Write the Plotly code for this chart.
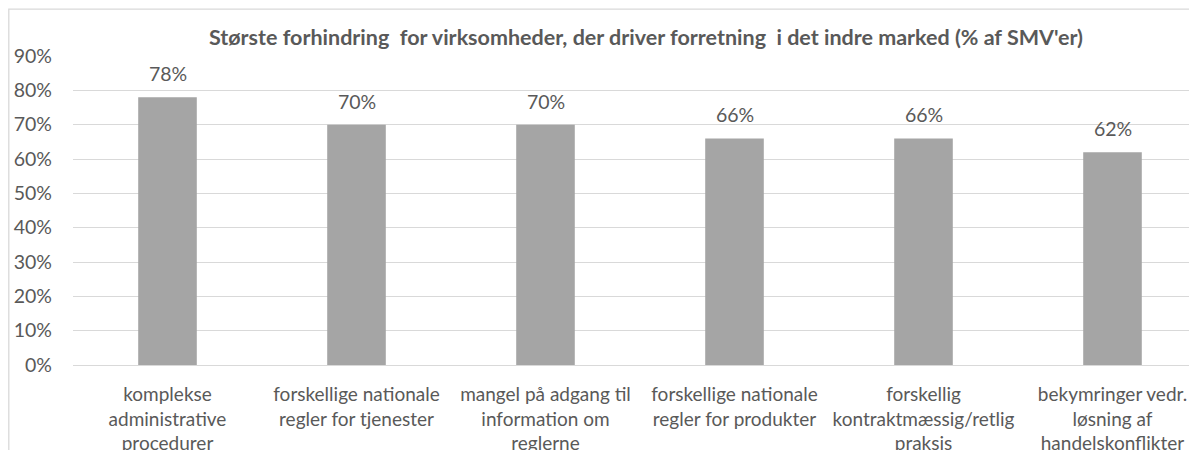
import plotly.graph_objects as go

title_text = "Største forhindring  for virksomheder, der driver forretning  i det indre marked (% af SMV'er)"
categories = [
    "komplekse<br>administrative<br>procedurer",
    "forskellige nationale<br>regler for tjenester",
    "mangel på adgang til<br>information om<br>reglerne",
    "forskellige nationale<br>regler for produkter",
    "forskellig<br>kontraktmæssig/retlig<br>praksis",
    "bekymringer vedr.<br>løsning af<br>handelskonflikter",
]
values = [0.78, 0.70, 0.70, 0.66, 0.66, 0.62]
value_labels = ["78%", "70%", "70%", "66%", "66%", "62%"]
y_ticks = [0, 0.1, 0.2, 0.3, 0.4, 0.5, 0.6, 0.7, 0.8, 0.9]
y_tick_labels = ["0%", "10%", "20%", "30%", "40%", "50%", "60%", "70%", "80%", "90%"]

FONT = "Lato"
TXT = "#595959"
GRID = "#D9D9D9"
BAR = "#A5A5A5"

# page has an 8px body margin, so the figure is sized to end at the window edge
W, H = 1189, 442
ML, MR, MT, MB = 65, 0, 48, 85
pw = W - ML - MR
ph = H - MT - MB

xpos = list(range(len(categories)))

fig = go.Figure()
fig.add_trace(go.Bar(
    x=xpos, y=values, width=0.31,
    marker=dict(color=BAR, line=dict(width=0)),
    hoverinfo="skip",
))

for xi, v, lab in zip(xpos, values, value_labels):
    fig.add_annotation(x=xi, y=v, text=lab, showarrow=False, yanchor="bottom",
                       yshift=10, font=dict(family=FONT, size=19.5, color=TXT))

# chart area border (top-left corner visible)
fig.add_shape(type="rect", xref="paper", yref="paper",
              x0=(0.8 - ML) / pw, x1=1.05, y0=-0.5, y1=(ph + MT - 1.2) / ph,
              line=dict(color=GRID, width=1.3), fillcolor="rgba(0,0,0,0)", layer="below")

fig.update_layout(
    width=W, height=H,
    margin=dict(l=ML, r=MR, t=MT, b=MB, pad=0, autoexpand=False),
    paper_bgcolor="white", plot_bgcolor="white",
    showlegend=False,
    title=dict(text="<b>" + title_text + "</b>", x=638 / W, xanchor="center",
               y=1 - 29 / H, yanchor="middle",
               font=dict(family=FONT, size=21.5, color=TXT)),
    xaxis=dict(range=[-0.5, -0.5 + pw / 189.0], tickvals=xpos, ticktext=categories,
               showgrid=False, zeroline=False, showline=False, ticks="", automargin=False,
               tickfont=dict(family=FONT, size=19, color=TXT), ticklabelstandoff=16),
    yaxis=dict(range=[0, 0.9], tickvals=y_ticks, ticktext=y_tick_labels, automargin=False,
               showgrid=True, gridcolor=GRID, gridwidth=1.3, zeroline=True, zerolinecolor=GRID,
               zerolinewidth=1.3, showline=False, ticks="",
               tickfont=dict(family=FONT, size=19.5, color=TXT), ticklabelstandoff=20),
)

fig.write_html("out.html")
